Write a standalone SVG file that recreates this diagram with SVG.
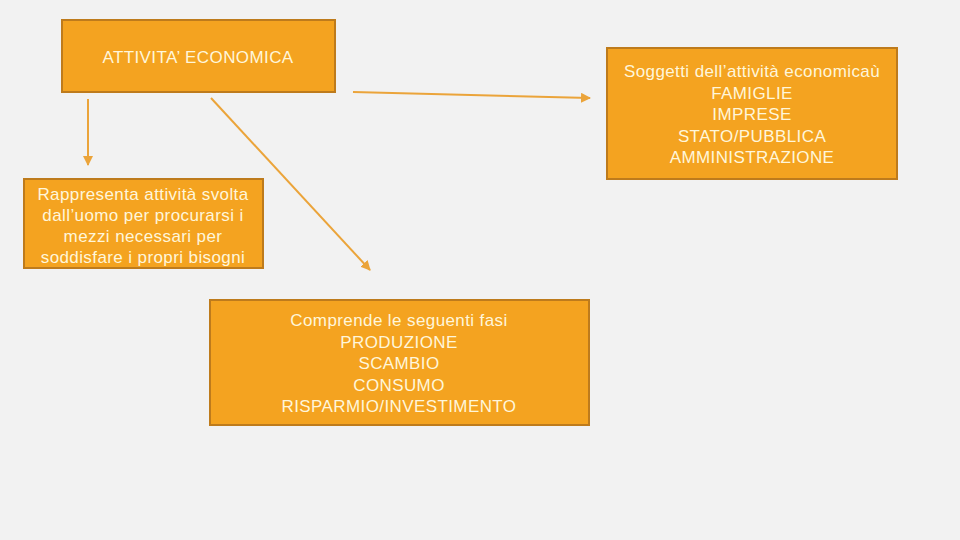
<svg xmlns="http://www.w3.org/2000/svg" width="960" height="540" viewBox="0 0 960 540">
<style>
.box{fill:#F4A320;stroke:#BE7B1C;stroke-width:2}
.t{font-family:"Liberation Sans",Arial,sans-serif;font-size:17px;letter-spacing:0.4px;fill:#FFF6DA;text-anchor:middle}
.c{stroke:#EBA43A;stroke-width:2;fill:none;marker-end:url(#ah)}
</style>
<defs>
<marker id="ah" viewBox="0 0 10 10" refX="9" refY="5" markerWidth="5" markerHeight="5" orient="auto" markerUnits="strokeWidth">
<path d="M0,0 L10,5 L0,10 Z" fill="#EBA43A"/>
</marker>
</defs>
<rect width="960" height="540" fill="#F2F2F2"/>
<g id="connectors">
<line class="c" x1="88" y1="99" x2="88" y2="165"/>
<line class="c" x1="211" y1="98" x2="370" y2="270"/>
<line class="c" x1="353" y1="92" x2="590" y2="98"/>
</g>
<g id="attivita">
<rect class="box" x="62" y="20" width="273" height="72"/>
<text class="t" x="198" y="63">ATTIVITA’ ECONOMICA</text>
</g>
<g id="soggetti">
<rect class="box" x="607" y="48" width="290" height="131"/>
<text class="t" x="752" y="77">Soggetti dell’attività economicaù</text>
<text class="t" x="752" y="99">FAMIGLIE</text>
<text class="t" x="752" y="120">IMPRESE</text>
<text class="t" x="752" y="142">STATO/PUBBLICA</text>
<text class="t" x="752" y="163">AMMINISTRAZIONE</text>
</g>
<g id="rappresenta">
<rect class="box" x="24" y="179" width="239" height="89"/>
<text class="t" x="143" y="200">Rappresenta attività svolta</text>
<text class="t" x="143" y="221">dall’uomo per procurarsi i</text>
<text class="t" x="143" y="242">mezzi necessari per</text>
<text class="t" x="143" y="263">soddisfare i propri bisogni</text>
</g>
<g id="comprende">
<rect class="box" x="210" y="300" width="379" height="125"/>
<text class="t" x="399" y="326">Comprende le seguenti fasi</text>
<text class="t" x="399" y="348">PRODUZIONE</text>
<text class="t" x="399" y="369">SCAMBIO</text>
<text class="t" x="399" y="391">CONSUMO</text>
<text class="t" x="399" y="412">RISPARMIO/INVESTIMENTO</text>
</g>
</svg>
